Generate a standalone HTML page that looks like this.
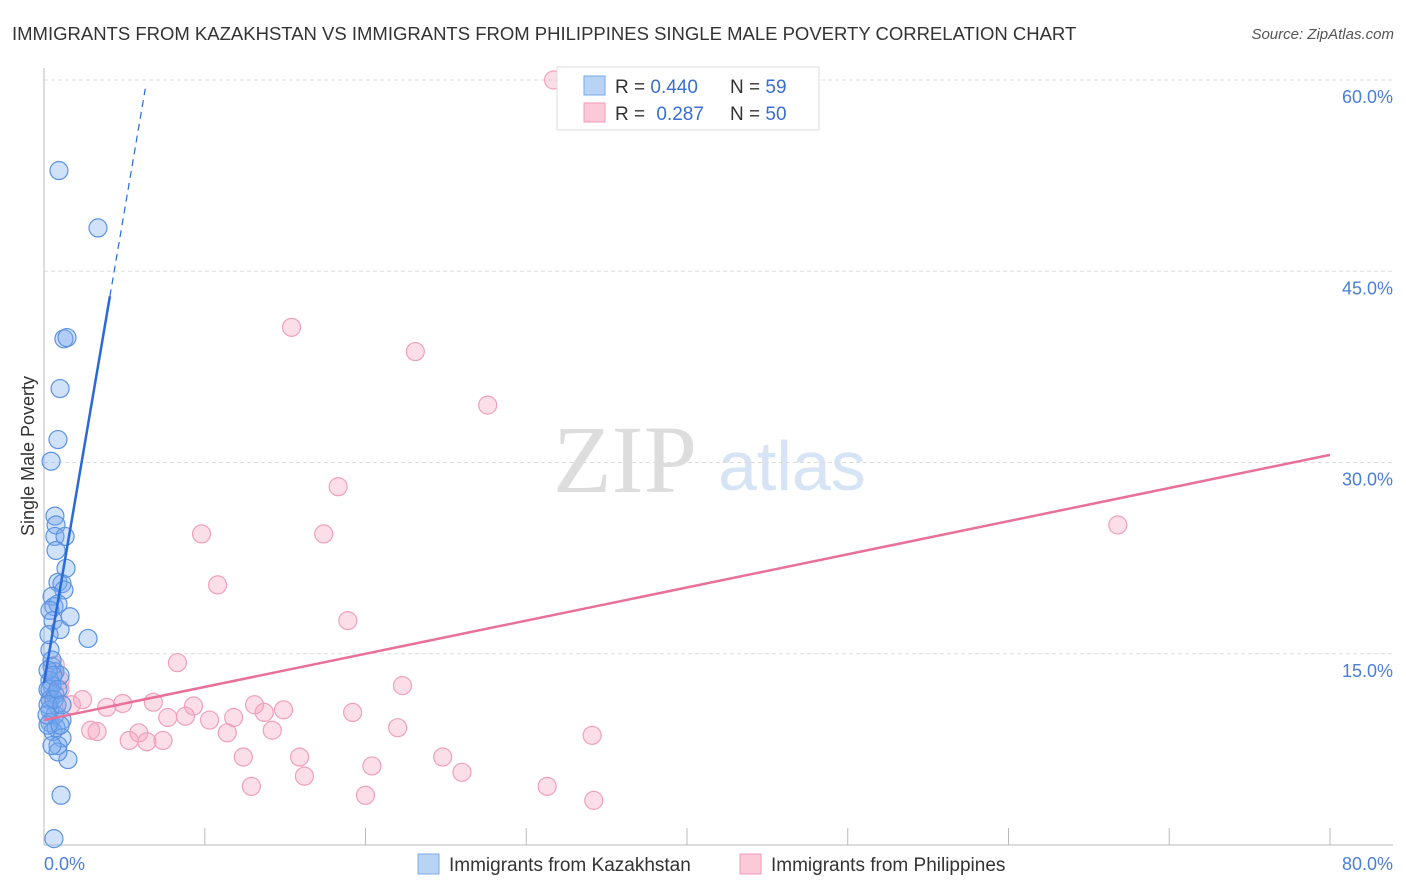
<!DOCTYPE html>
<html><head><meta charset="utf-8"><style>
body{margin:0;background:#fff;}
svg{display:block;font-family:"Liberation Sans",sans-serif;}
</style></head><body>
<svg id="chart" width="1406" height="892" viewBox="0 0 1406 892" xmlns="http://www.w3.org/2000/svg">
<text x="12" y="40" font-size="18.5" fill="#333">IMMIGRANTS FROM KAZAKHSTAN VS IMMIGRANTS FROM PHILIPPINES SINGLE MALE POVERTY CORRELATION CHART</text>
<text x="1394" y="39" font-size="15" fill="#555" font-style="italic" text-anchor="end">Source: ZipAtlas.com</text>
<g>
<text x="553" y="492" font-family="Liberation Serif,serif" font-size="96" fill="#ddd">ZIP</text>
<text x="718" y="490" font-size="70" fill="#d6e4f5">atlas</text>
</g>
<text transform="translate(34,456) rotate(-90)" font-size="18" fill="#333" text-anchor="middle">Single Male Poverty</text>
<g id="grid"></g>
<g id="axes"></g>
<g id="marks"></g>
<g>
<rect x="557" y="67" width="262" height="63" fill="#fff" stroke="#ddd"/>
<rect x="584" y="76" width="21" height="19" fill="#b9d3f5" stroke="#7aa8e8"/>
<rect x="584" y="103" width="21" height="19" fill="#fbc9d8" stroke="#f09ab5"/>
<text x="615" y="93" font-size="19" fill="#333">R = <tspan fill="#3a6fd0">0.440</tspan><tspan x="730">N = </tspan><tspan fill="#3a6fd0">59</tspan></text>
<text x="615" y="120" font-size="19" fill="#333">R = <tspan fill="#3a6fd0" dx="6">0.287</tspan><tspan x="730">N = </tspan><tspan fill="#3a6fd0">50</tspan></text>
</g>
<g>
<rect x="418" y="854" width="21" height="20" fill="#b9d3f5" stroke="#7aa8e8"/>
<text x="449" y="871" font-size="19" fill="#333">Immigrants from Kazakhstan</text>
<rect x="740" y="854" width="21" height="20" fill="#fbc9d8" stroke="#f09ab5"/>
<text x="771" y="871" font-size="19" fill="#333">Immigrants from Philippines</text>
</g>
</svg>
<script>
const yTicks=[15,30,45,60];
const yTickLabels=["15.0%","30.0%","45.0%","60.0%"];
const xTicks=[10,20,30,40,50,60,70,80];
const blueX=[0.93,3.36,1.24,1.43,1.0,0.87,0.44,0.68,0.75,0.68,1.31,0.75,1.37,0.87,1.12,1.24,0.5,0.62,0.87,0.37,0.56,1.0,1.62,2.74,0.37,0.5,0.68,1.0,0.37,0.5,0.25,0.68,0.37,0.81,0.37,0.68,1.12,0.37,0.75,0.56,1.12,0.87,1.49,0.87,1.06,0.62,0.25,0.5,0.25,0.37,0.62,0.25,0.56,0.19,0.87,0.5,1.0,0.31,1.12];
const blueY=[52.9,48.4,39.7,39.8,35.8,31.8,30.1,25.8,25.1,24.2,24.2,23.1,21.7,20.6,20.5,20.0,19.5,18.7,18.9,18.4,17.6,16.9,17.9,16.2,15.3,14.0,13.6,13.3,12.9,12.5,12.2,11.8,11.4,11.0,10.6,10.2,9.8,9.6,9.2,8.9,8.4,7.8,6.7,7.3,3.9,0.5,9.4,14.5,13.7,12.2,11.4,11.0,13.3,10.2,12.2,7.8,9.4,16.5,11.0];
const pinkX=[31.7,15.4,23.1,27.6,18.3,66.8,9.8,17.4,10.8,18.9,8.3,22.3,0.7,1.0,2.4,1.7,3.9,4.9,6.8,9.3,13.1,14.9,8.8,7.7,10.3,11.8,13.7,19.2,2.9,3.3,5.9,5.3,6.4,7.4,11.4,14.2,22.0,34.1,12.4,15.9,24.8,20.4,26.0,16.2,12.9,31.3,20.0,34.2,1.0,0.4];
const pinkY=[60.0,40.6,38.7,34.5,28.1,25.1,24.4,24.4,20.4,17.6,14.3,12.5,14.1,12.2,11.4,11.0,10.8,11.1,11.2,10.9,11.0,10.6,10.1,10.0,9.8,10.0,10.4,10.4,9.0,8.9,8.8,8.2,8.1,8.2,8.8,9.0,9.2,8.6,6.9,6.9,6.9,6.2,5.7,5.4,4.6,4.6,3.9,3.5,12.9,11.4];
const blueTrend=[12.7,7.4]; // intercept, slope
const blueTrendSolidEnd=4.1, blueTrendDashEnd=6.3;
const pinkTrend=[9.8,0.26];
const pinkTrendEnd=80;

const NS="http://www.w3.org/2000/svg";
const X=v=>44+v*16.075, Y=v=>845-v*12.75;
function mk(p,tag,at){const e=document.createElementNS(NS,tag);for(const k in at)e.setAttribute(k,at[k]);p.appendChild(e);return e;}
const grid=document.getElementById('grid'),axes=document.getElementById('axes'),marks=document.getElementById('marks');
yTicks.forEach((t,i)=>{
 const l=mk(grid,'line',{x1:44,x2:1393,y1:Y(t),y2:Y(t),stroke:'#ddd','stroke-dasharray':'4,3'});
 
 
 const tx=mk(axes,'text',{x:1393,y:Y(t)+23,'font-size':18,fill:'#4a7fd6','text-anchor':'end'});
 tx.textContent=yTickLabels[i];
 
 
});
const ya=mk(axes,'line',{x1:44,x2:44,y1:68,y2:845,stroke:'#bbb'});


const xa=mk(axes,'line',{x1:44,x2:1393,y1:845,y2:845,stroke:'#bbb'});


xTicks.forEach(t=>{
 const l=mk(axes,'line',{x1:X(t),x2:X(t),y1:828,y2:845,stroke:'#bbb'});
 
 
});
const x0=mk(axes,'text',{x:44,y:870,'font-size':18,fill:'#4a7fd6'});x0.textContent='0.0%';


const x1=mk(axes,'text',{x:1393,y:870,'font-size':18,fill:'#4a7fd6','text-anchor':'end'});x1.textContent='80.0%';


pinkX.forEach((v,i)=>{
 const c=mk(marks,'circle',{cx:X(v),cy:Y(pinkY[i]),r:9,fill:'rgba(245,160,190,0.35)',stroke:'#f0a0bb','stroke-width':1.2});
 
 
});
blueX.forEach((v,i)=>{
 const c=mk(marks,'circle',{cx:X(v),cy:Y(blueY[i]),r:9,fill:'rgba(120,170,240,0.35)',stroke:'#5b93e0','stroke-width':1.2});
 
 
});
const bt=v=>blueTrend[0]+blueTrend[1]*v, pt=v=>pinkTrend[0]+pinkTrend[1]*v;
const pl=mk(marks,'line',{x1:X(0),y1:Y(pt(0)),x2:X(pinkTrendEnd),y2:Y(pt(pinkTrendEnd)),stroke:'#e8709a','stroke-width':2.5});


const bl=mk(marks,'line',{x1:X(0),y1:Y(bt(0)),x2:X(blueTrendSolidEnd),y2:Y(bt(blueTrendSolidEnd)),stroke:'#2a6ad8','stroke-width':2.5});


const bd=mk(marks,'line',{x1:X(blueTrendSolidEnd),y1:Y(bt(blueTrendSolidEnd)),x2:X(blueTrendDashEnd),y2:Y(bt(blueTrendDashEnd)),stroke:'#2a6ad8','stroke-width':1.2,'stroke-dasharray':'7,5'});


</script>
</body></html>
